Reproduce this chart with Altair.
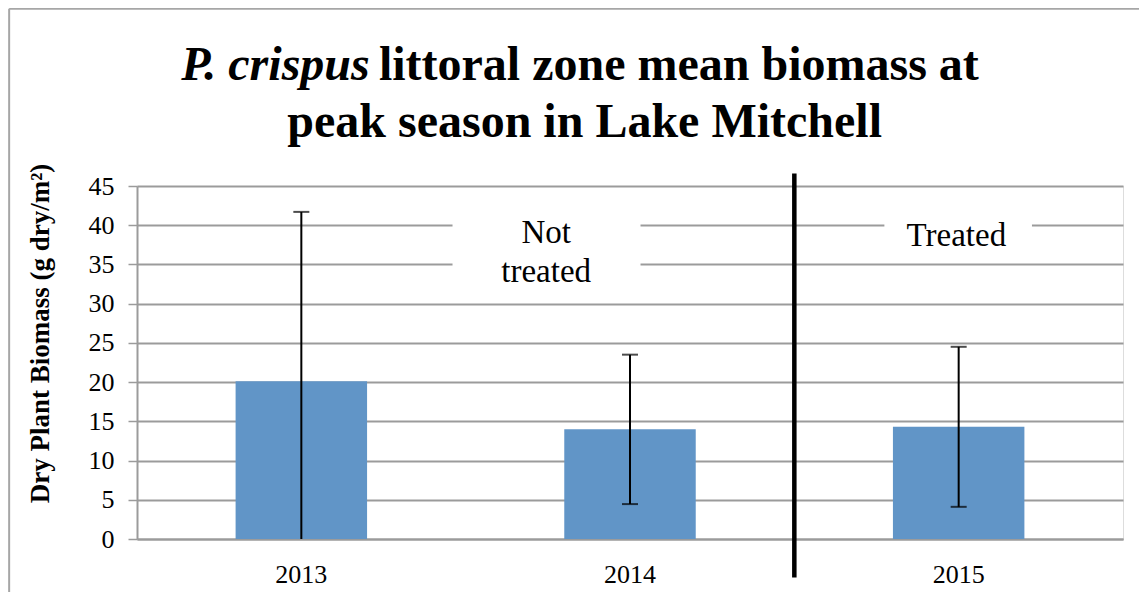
import altair as alt
import pandas as pd

# --- data ---
years = ["2013", "2014", "2015"]
means = [20.1, 14.0, 14.3]
err_low = [0.0, 4.45, 4.1]
err_high = [41.7, 23.5, 24.5]
low_cap_shown = [False, True, True]
y_ticks = [0, 5, 10, 15, 20, 25, 30, 35, 40, 45]

# annotation layer (x in band units, 0..3)
note_text = ["Not", "treated", "Treated"]
note_x = [1.245, 1.245, 2.493]
note_y = [37.7, 32.7, 37.4]
box_x = [0.96, 2.274]
box_x2 = [1.532, 2.723]
box_y = [32.0, 37.6]
box_y2 = [42.0, 42.0]
divider_x = [2.0]
divider_y = [-4.9]
divider_y2 = [46.6]
title_line1_it = "P. crispus"
title_line1_rest = "littoral zone mean biomass at"
title_line2 = "peak season in Lake Mitchell"
# chart-area frame (left and top edges)
frame_x = [-0.389, -0.389]
frame_x2 = [-0.389, 3.1]
frame_y = [-8.0, 67.6]
frame_y2 = [67.6, 67.6]

FONT = "'Liberation Serif', 'Times New Roman', serif"
BAR_COLOR = "#6195C7"
GRID = "#9b9b9b"

df = pd.DataFrame({"year": years, "mean": means, "lo": err_low, "hi": err_high,
                   "lowcap": low_cap_shown})

yscale = alt.Scale(domain=[0, 45], nice=False, zero=True)
yaxis = alt.Axis(values=y_ticks, labelFont=FONT, labelFontSize=26,
                 labelColor="black", labelPadding=14, tickSize=9,
                 tickColor=GRID, tickWidth=1.5, domainColor=GRID,
                 domainWidth=2, gridColor=GRID, gridWidth=1.8,
                 labelOverlap=False,
                 titleFont=FONT, titleFontSize=27, titleFontWeight="bold",
                 titleColor="black", titleX=-89, titleY=147,
                 titleBaseline="alphabetic", titleAngle=-90)
YTITLE = "Dry Plant Biomass (g dry/m²)"


def Y(field):
    return alt.Y(field, scale=yscale, title=YTITLE, axis=yaxis)


xband = alt.X("year:N", title=None, sort=years,
              scale=alt.Scale(paddingInner=0, paddingOuter=0),
              axis=alt.Axis(labelFont=FONT, labelFontSize=26, labelColor="black",
                            labelAngle=0, ticks=False, labelPadding=22,
                            domainColor=GRID, domainWidth=2))

bars = alt.Chart(df).mark_bar(color=BAR_COLOR, width=alt.RelativeBandSize(0.4)).encode(
    x=xband, y=Y("mean:Q"))

err_rule = alt.Chart(df).mark_rule(color="black", strokeWidth=2).encode(
    x=xband, y=Y("lo:Q"), y2="hi:Q")
cap_hi = alt.Chart(df).mark_tick(color="black", size=16, thickness=2).encode(
    x=xband, y=Y("hi:Q"))
cap_lo = alt.Chart(df).transform_filter("datum.lowcap").mark_tick(
    color="black", size=16, thickness=2).encode(
    x=xband, y=Y("lo:Q"))

main = alt.layer(bars, err_rule, cap_hi, cap_lo)

xq = alt.Scale(domain=[0, 3], nice=False, zero=False)

boxes = alt.Chart(pd.DataFrame({"x": box_x, "x2": box_x2, "y": box_y, "y2": box_y2})).mark_rect(
    color="white").encode(
    x=alt.X("x:Q", scale=xq, axis=None), x2="x2:Q",
    y=Y("y:Q"), y2="y2:Q")

divider = alt.Chart(pd.DataFrame({"x": divider_x, "y": divider_y, "y2": divider_y2})).mark_rule(
    color="black", strokeWidth=4.5).encode(
    x=alt.X("x:Q", scale=xq, axis=None),
    y=Y("y:Q"), y2="y2:Q")

frame = alt.Chart(pd.DataFrame({"x": frame_x, "x2": frame_x2, "y": frame_y, "y2": frame_y2})).mark_rule(
    color="#a6a6a6", strokeWidth=2).encode(
    x=alt.X("x:Q", scale=xq, axis=None), x2="x2:Q",
    y=Y("y:Q"), y2="y2:Q")

notes = alt.Chart(pd.DataFrame({"t": note_text, "x": note_x, "y": note_y})).mark_text(
    font=FONT, fontSize=33, color="black", align="center", baseline="alphabetic").encode(
    x=alt.X("x:Q", scale=xq, axis=None),
    y=Y("y:Q"), text="t:N")

title_df = pd.DataFrame({
    "t": [title_line1_it, title_line1_rest, title_line2],
    "x": [0.708, 0.736, 1.362],
    "y": [58.5, 58.5, 51.2],
})
t1 = alt.Chart(title_df.iloc[[0]]).mark_text(
    font=FONT, fontSize=48, fontWeight="bold", fontStyle="italic", color="black",
    align="right", baseline="alphabetic").encode(
    x=alt.X("x:Q", scale=xq, axis=None), y=Y("y:Q"), text="t:N")
t2 = alt.Chart(title_df.iloc[[1]]).mark_text(
    font=FONT, fontSize=48, fontWeight="bold", color="black",
    align="left", baseline="alphabetic").encode(
    x=alt.X("x:Q", scale=xq, axis=None), y=Y("y:Q"), text="t:N")
t3 = alt.Chart(title_df.iloc[[2]]).mark_text(
    font=FONT, fontSize=48, fontWeight="bold", color="black",
    align="center", baseline="alphabetic").encode(
    x=alt.X("x:Q", scale=xq, axis=None), y=Y("y:Q"), text="t:N")

annot = alt.layer(frame, boxes, divider, notes, t1, t2, t3)

chart = alt.layer(main, annot).resolve_scale(x="independent").properties(
    width=986, height=353,
    autosize=alt.AutoSizeParams(type="none"),
    padding={"left": 129, "top": 178, "right": 16, "bottom": 53},
).configure_view(stroke=None).configure(background="white")

chart.save("out.html", embed_options={"renderer": "svg", "actions": False})
